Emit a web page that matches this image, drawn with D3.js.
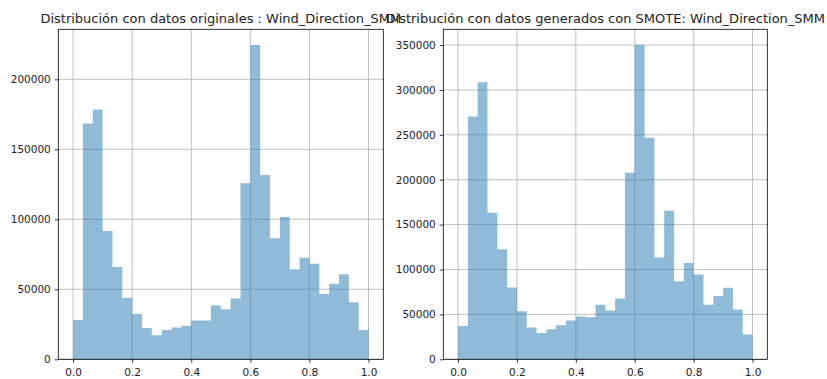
<!DOCTYPE html>
<html><head><meta charset="utf-8">
<script src="https://cdn.jsdelivr.net/npm/d3@7"></script>
<style>body{margin:0;background:#fff}svg{display:block}text{font-family:"DejaVu Sans",sans-serif;fill:#222}</style>
</head><body>
<svg id="chart" width="827" height="379"></svg>
<script>
const binEdges = d3.range(31).map(i => i / 30);
const originalCounts = [28000, 168500, 178500, 91700, 65900, 44000, 32300, 22300, 17200, 20900,
  22800, 23900, 27700, 27700, 38500, 35800, 43400, 125800, 224500, 131700,
  86500, 101600, 64300, 72500, 68200, 46700, 54000, 60800, 40800, 20900];
const smoteCounts = [37200, 270400, 308500, 163300, 122600, 80000, 53500, 35300, 29300, 33400,
  38000, 43200, 47600, 46900, 60800, 54400, 67600, 207800, 350000, 246700,
  113500, 165400, 86900, 107200, 94400, 60800, 70400, 79800, 55400, 27600];
const xTicks = [0, 0.2, 0.4, 0.6, 0.8, 1.0];
const yTicksOriginal = [0, 50000, 100000, 150000, 200000];
const yTicksSmote = [0, 50000, 100000, 150000, 200000, 250000, 300000, 350000];
const titles = ["Distribución con datos originales : Wind_Direction_SMM",
  "Distribución con datos generados con SMOTE: Wind_Direction_SMM"];

const svg = d3.select("#chart");
const panels = [
  {left: 58.3, right: 383.3, counts: originalCounts, yTicks: yTicksOriginal, title: titles[0]},
  {left: 443.3, right: 767.3, counts: smoteCounts, yTicks: yTicksSmote, title: titles[1]}
];
const plotTop = 29.3, plotBottom = 359.3;

panels.forEach(p => {
  const g = svg.append("g");
  const x = d3.scaleLinear().domain([-0.05, 1.05]).range([p.left, p.right]);
  const ymax = d3.max(p.counts) * 1.05;
  const y = d3.scaleLinear().domain([0, ymax]).range([plotBottom, plotTop]);
  g.selectAll(".gx").data(xTicks).join("line")
    .attr("x1", d => x(d)).attr("x2", d => x(d)).attr("y1", plotTop).attr("y2", plotBottom)
    .attr("stroke", "#b0b0b0").attr("stroke-width", 0.8);
  g.selectAll(".gy").data(p.yTicks).join("line")
    .attr("x1", p.left).attr("x2", p.right).attr("y1", d => y(d)).attr("y2", d => y(d))
    .attr("stroke", "#b0b0b0").attr("stroke-width", 0.8);
  // histogram bars as one step outline (no seams between adjacent bins)
  const pts = [];
  p.counts.forEach((c, i) => { pts.push([binEdges[i], c]); pts.push([binEdges[i + 1], c]); });
  const area = d3.area().x(d => x(d[0])).y0(y(0)).y1(d => y(d[1]));
  g.append("path").datum(pts).attr("d", area)
    .attr("fill", "#1f77b4").attr("fill-opacity", 0.5);
  const xa = g.append("g").attr("transform", `translate(0,${plotBottom})`)
    .call(d3.axisBottom(x).tickValues(xTicks).tickFormat(d3.format(".1f")).tickSizeInner(3.5).tickSizeOuter(0).tickPadding(5.5));
  const ya = g.append("g").attr("transform", `translate(${p.left},0)`)
    .call(d3.axisLeft(y).tickValues(p.yTicks).tickFormat(d3.format("d")).tickSizeInner(3.5).tickSizeOuter(0).tickPadding(4));
  [xa, ya].forEach(a => {
    a.select(".domain").remove();
    a.selectAll("line").attr("stroke", "#000").attr("stroke-width", 0.8);
    a.selectAll("text").attr("font-size", 10.5).attr("fill", "#222").attr("font-family", "DejaVu Sans");
  });
  g.append("rect").attr("x", p.left).attr("y", plotTop).attr("width", p.right - p.left).attr("height", plotBottom - plotTop)
    .attr("fill", "none").attr("stroke", "#000").attr("stroke-width", 0.8);
  g.append("text").attr("x", (p.left + p.right) / 2).attr("y", 22.5).attr("text-anchor", "middle")
    .attr("font-size", 13).attr("fill", "#000").text(p.title);
});
</script>
</body></html>
